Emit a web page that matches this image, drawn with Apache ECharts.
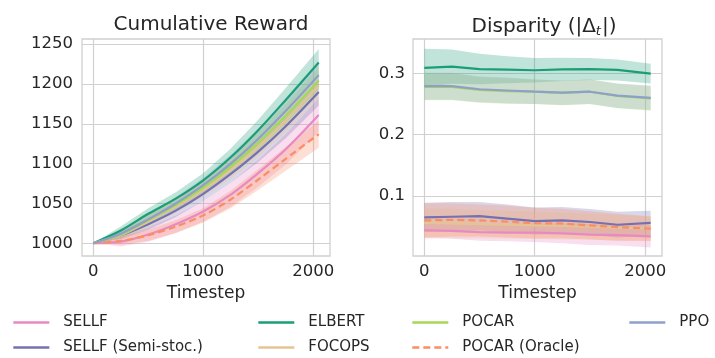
<!DOCTYPE html>
<html>
<head>
<meta charset="utf-8">
<script src="https://cdn.jsdelivr.net/npm/echarts@6/dist/echarts.min.js"></script>
<style>
  html, body { margin: 0; padding: 0; background: #fff; }
  #main { width: 715px; height: 358px; }
</style>
</head>
<body>
<div id="main"></div>
<script>
// timesteps shared by both panels
var timesteps = [0, 250, 500, 750, 1000, 1250, 1500, 1750, 2050];

var names = ['SELLF', 'SELLF (Semi-stoc.)', 'ELBERT', 'FOCOPS', 'POCAR', 'POCAR (Oracle)', 'PPO'];
var colors = ['#e78ac3', '#7570b3', '#1b9e77', '#e5c494', '#a6d854', '#fc8d62', '#8da0cb'];

// tick labels
var xTicks = [0, 1000, 2000];
var rewardTicks = [1000, 1050, 1100, 1150, 1200, 1250];
var dispTicks = [0.1, 0.2, 0.3];

// cumulative reward (mean)
var rewardSELLF = [1000, 1002, 1011, 1024, 1040, 1061, 1088, 1118, 1161];
var rewardSemi = [1000, 1010, 1024, 1041, 1062, 1087, 1115, 1147, 1190];
var rewardELBERT = [1000, 1016, 1037, 1056, 1079, 1108, 1142, 1180, 1227];
var rewardFOCOPS = [1000, 1010, 1027, 1046, 1067, 1092, 1121, 1154, 1198];
var rewardPOCAR = [1000, 1011, 1029, 1048, 1070, 1096, 1126, 1160, 1204];
var rewardOracle = [1000, 1003, 1010, 1021, 1035, 1055, 1080, 1106, 1137];
var rewardPPO = [1000, 1012, 1030, 1050, 1073, 1100, 1131, 1166, 1211];
// half width of the shaded band
var rewardSpread = [0, 5, 7, 8, 9, 11, 13, 15, 17];
var rewardSpreadSELLF = [0, 6, 9, 11, 13, 15, 17, 19, 21];

// disparity (mean)
var dispSELLF = [0.044, 0.043, 0.041, 0.040, 0.040, 0.039, 0.037, 0.036, 0.034];
var dispSemi = [0.065, 0.066, 0.067, 0.063, 0.059, 0.060, 0.0575, 0.053, 0.056];
var dispELBERT = [0.309, 0.311, 0.307, 0.306, 0.305, 0.3065, 0.307, 0.3055, 0.2995];
var dispFOCOPS = [0.056, 0.055, 0.054, 0.053, 0.052, 0.051, 0.050, 0.048, 0.047];
var dispPOCAR = [0.278, 0.278, 0.273, 0.271, 0.270, 0.268, 0.270, 0.263, 0.259];
var dispOracle = [0.060, 0.061, 0.060, 0.058, 0.0556, 0.055, 0.052, 0.049, 0.0466];
var dispPPO = [0.279, 0.279, 0.274, 0.272, 0.270, 0.2685, 0.270, 0.2635, 0.260];
var dispSpreadSELLF = [0.013, 0.013, 0.014, 0.014, 0.015, 0.016, 0.017, 0.017, 0.018];
var dispSpreadLow = [0.024, 0.024, 0.023, 0.023, 0.022, 0.022, 0.021, 0.021, 0.020];
var dispSpreadOracle = [0.028, 0.027, 0.026, 0.026, 0.025, 0.024, 0.023, 0.022, 0.020];
var dispSpreadELBERT = [0.031, 0.028, 0.025, 0.022, 0.020, 0.019, 0.018, 0.017, 0.016];
var dispSpreadHigh = [0.022, 0.022, 0.021, 0.021, 0.020, 0.020, 0.020, 0.020, 0.020];

var rewardMeans = [rewardSELLF, rewardSemi, rewardELBERT, rewardFOCOPS, rewardPOCAR, rewardOracle, rewardPPO];
var rewardSpreads = [rewardSpreadSELLF, rewardSpread, rewardSpread, rewardSpread, rewardSpread, rewardSpread, rewardSpread];
var dispMeans = [dispSELLF, dispSemi, dispELBERT, dispFOCOPS, dispPOCAR, dispOracle, dispPPO];
var dispSpreads = [dispSpreadSELLF, dispSpreadLow, dispSpreadELBERT, dispSpreadLow, dispSpreadHigh, dispSpreadOracle, dispSpreadHigh];

var textColor = '#262626';
var gridColor = '#d0d0d0';
var font = 'DejaVu Sans';

var series = [];

function addPanel(means, spreads, axisIdx, smooth) {
  for (var k = 0; k < names.length; k++) {
    (function (k) {
      var band = [], line = [];
      for (var i = 0; i < timesteps.length; i++) {
        band.push([timesteps[i], means[k][i] - spreads[k][i], means[k][i] + spreads[k][i]]);
        line.push([timesteps[i], means[k][i]]);
      }
      // shaded band as one polygon, placed through the axes' scales
      series.push({
        type: 'custom', xAxisIndex: axisIdx, yAxisIndex: axisIdx, data: band,
        silent: true, z: 1, encode: { x: 0, y: [1, 2] },
        renderItem: function (params, api) {
          if (params.dataIndex !== 0) return null;
          var up = [], down = [];
          for (var j = 0; j < band.length; j++) {
            up.push(api.coord([band[j][0], band[j][2]]));
            down.unshift(api.coord([band[j][0], band[j][1]]));
          }
          return {
            type: 'polygon',
            shape: { points: up.concat(down) },
            style: { fill: colors[k], opacity: 0.28 }
          };
        }
      });
      series.push({
        type: 'line', name: names[k], xAxisIndex: axisIdx, yAxisIndex: axisIdx,
        data: line, symbol: 'none', smooth: smooth, z: 3,
        itemStyle: { color: colors[k] },
        lineStyle: { color: colors[k], width: 2.2, type: names[k] === 'POCAR (Oracle)' ? [7, 4] : 'solid' }
      });
    })(k);
  }
}

addPanel(rewardMeans, rewardSpreads, 0, 0.3);
addPanel(dispMeans, dispSpreads, 1, false);

function xAxisOpt(idx) {
  return {
    type: 'value', gridIndex: idx, min: -102.5, max: 2152.5,
    name: 'Timestep', nameLocation: 'middle', nameGap: 27,
    nameTextStyle: { color: textColor, fontSize: 17, fontFamily: font },
    axisLine: { show: false },
    axisTick: { show: false, customValues: xTicks },
    axisLabel: { color: textColor, fontSize: 16.5, fontFamily: font, margin: 7, customValues: xTicks,
      formatter: function (v) { return String(v); } },
    splitLine: { show: true, lineStyle: { color: gridColor, width: 1.2 } }
  };
}

var legendItems = [
  { name: 'SELLF', left: 12, top: 315 },
  { name: 'SELLF (Semi-stoc.)', left: 12, top: 340 },
  { name: 'ELBERT', left: 257, top: 315 },
  { name: 'FOCOPS', left: 257, top: 340 },
  { name: 'POCAR', left: 411, top: 315 },
  { name: 'POCAR (Oracle)', left: 411, top: 340 },
  { name: 'PPO', left: 628, top: 315 }
];

var legends = legendItems.map(function (it) {
  return {
    left: it.left, top: it.top, data: [it.name], orient: 'horizontal',
    itemWidth: 36, itemHeight: 14, padding: 0,
    itemStyle: { opacity: 0 },
    lineStyle: { width: 2.6 },
    textStyle: { color: textColor, fontSize: 15, fontFamily: font, padding: [0, 0, 0, 9] }
  };
});

var option = {
  animation: false,
  backgroundColor: '#fff',
  title: [
    { text: 'Cumulative Reward', left: 206, top: 10, textAlign: 'center',
      textStyle: { color: textColor, fontSize: 20, fontWeight: 'normal', fontFamily: font } },
    { text: 'Disparity (|Δ{t|t}|)', left: 539, top: 10, textAlign: 'center',
      textStyle: { color: textColor, fontSize: 20, fontWeight: 'normal', fontFamily: font,
        rich: { t: { fontSize: 13, fontStyle: 'italic', fontFamily: font, color: textColor, padding: [10, 1, 0, 0] } } } }
  ],
  grid: [
    { left: 82, width: 248, top: 39, height: 217, show: true, borderColor: gridColor, borderWidth: 1.3 },
    { left: 413, width: 249, top: 39, height: 217, show: true, borderColor: gridColor, borderWidth: 1.3 }
  ],
  xAxis: [xAxisOpt(0), xAxisOpt(1)],
  yAxis: [
    {
      type: 'value', gridIndex: 0, min: 984, max: 1256.5,
      axisLine: { show: false },
      axisTick: { show: false, customValues: rewardTicks },
      axisLabel: { color: textColor, fontSize: 16.5, fontFamily: font, margin: 9, customValues: rewardTicks,
        formatter: function (v) { return String(v); } },
      splitLine: { show: true, lineStyle: { color: gridColor, width: 1.2 } }
    },
    {
      type: 'value', gridIndex: 1, min: 0.002, max: 0.356,
      axisLine: { show: false },
      axisTick: { show: false, customValues: dispTicks },
      axisLabel: { color: textColor, fontSize: 16.5, fontFamily: font, margin: 8, customValues: dispTicks,
        formatter: function (v) { return v.toFixed(1); } },
      splitLine: { show: true, lineStyle: { color: gridColor, width: 1.2 } }
    }
  ],
  legend: legends,
  series: series
};

var myChart = echarts.init(document.getElementById('main'));
myChart.setOption(option);
</script>
</body>
</html>
